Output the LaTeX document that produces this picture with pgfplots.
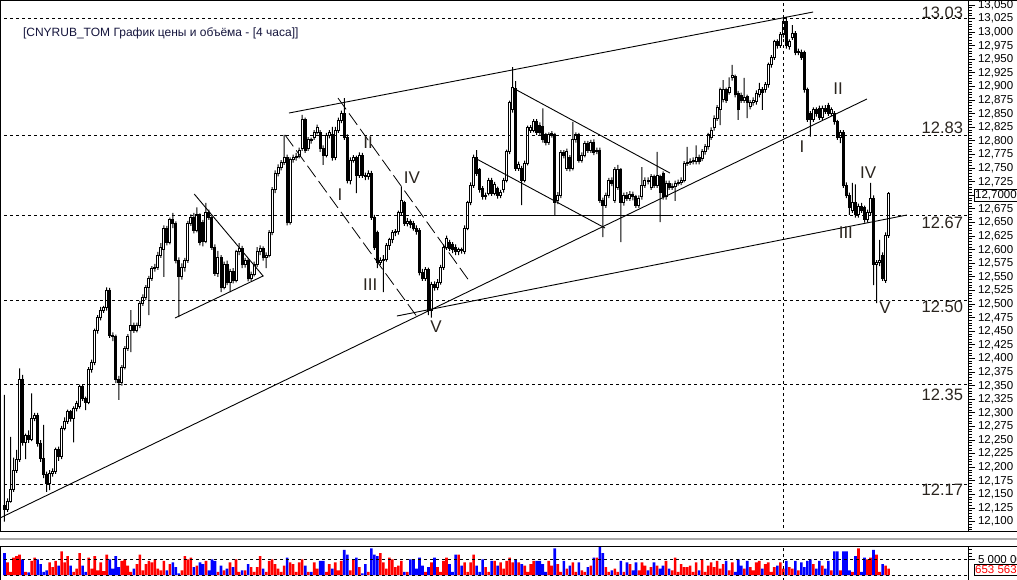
\documentclass[border=0pt]{standalone}
\usepackage{pgfplots}
\pgfplotsset{compat=1.18}
\usepackage{pgfplotstable}
\usepackage{fontspec}
\setmainfont{Liberation Sans}
\definecolor{volred}{RGB}{255,0,0}
\definecolor{volblue}{RGB}{0,0,255}
\definecolor{lvl}{RGB}{42,36,30}
\definecolor{ttl}{RGB}{20,20,60}
\definecolor{sepgray}{RGB}{170,170,170}

\pgfplotstableread{
i o h l c v
0 12.130 12.333 12.100 12.122 7.0
1 12.122 12.143 12.118 12.138 4.0
2 12.138 12.256 12.135 12.160 1.0
3 12.160 12.218 12.155 12.195 5.5
4 12.195 12.232 12.190 12.215 6.0
5 12.215 12.382 12.210 12.361 6.5
6 12.361 12.370 12.240 12.245 5.0
7 12.245 12.262 12.215 12.258 1.0
8 12.258 12.268 12.245 12.252 0.8
9 12.252 12.336 12.248 12.290 4.5
10 12.290 12.300 12.285 12.296 5.5
11 12.296 12.300 12.238 12.243 5.0
12 12.243 12.250 12.210 12.217 3.5
13 12.217 12.278 12.180 12.186 1.0
14 12.186 12.192 12.155 12.170 1.5
15 12.170 12.195 12.158 12.188 4.0
16 12.188 12.198 12.183 12.192 2.5
17 12.192 12.236 12.188 12.232 4.5
18 12.232 12.238 12.212 12.219 3.0
19 12.219 12.276 12.215 12.272 7.5
20 12.272 12.292 12.268 12.285 4.0
21 12.285 12.306 12.280 12.302 6.0
22 12.302 12.305 12.284 12.290 3.0
23 12.290 12.312 12.246 12.309 1.0
24 12.309 12.322 12.303 12.318 2.0
25 12.311 12.352 12.308 12.348 7.0
26 12.348 12.352 12.322 12.327 3.0
27 12.327 12.330 12.305 12.320 1.0
28 12.320 12.384 12.316 12.379 5.5
29 12.379 12.398 12.374 12.392 2.0
30 12.392 12.455 12.388 12.452 6.0
31 12.452 12.480 12.446 12.476 1.5
32 12.476 12.495 12.470 12.489 4.0
33 12.489 12.497 12.484 12.493 1.2
34 12.493 12.531 12.488 12.526 6.5
35 12.526 12.530 12.438 12.443 5.0
36 12.443 12.448 12.432 12.440 2.0
37 12.440 12.444 12.355 12.361 6.0
38 12.361 12.368 12.324 12.356 2.5
39 12.356 12.388 12.350 12.384 4.5
40 12.384 12.423 12.380 12.419 5.0
41 12.419 12.445 12.414 12.441 3.0
42 12.452 12.489 12.412 12.461 1.0
43 12.461 12.466 12.447 12.452 2.0
44 12.452 12.466 12.448 12.461 3.5
45 12.461 12.506 12.456 12.502 6.5
46 12.502 12.518 12.497 12.513 1.5
47 12.513 12.535 12.508 12.530 3.5
48 12.530 12.552 12.480 12.548 4.5
49 12.548 12.570 12.543 12.566 4.0
50 12.566 12.574 12.560 12.568 5.0
51 12.568 12.596 12.563 12.590 2.0
52 12.590 12.612 12.585 12.605 1.5
53 12.600 12.645 12.550 12.640 4.5
54 12.640 12.644 12.608 12.614 1.5
55 12.614 12.659 12.610 12.655 3.5
56 12.655 12.668 12.640 12.648 4.0
57 12.648 12.652 12.575 12.581 2.5
58 12.581 12.586 12.476 12.550 0.5
59 12.550 12.575 12.545 12.568 1.5
60 12.568 12.585 12.560 12.581 6.0
61 12.581 12.653 12.576 12.649 5.0
62 12.649 12.665 12.644 12.660 5.5
63 12.660 12.668 12.630 12.636 2.5
64 12.636 12.678 12.632 12.664 3.0
65 12.664 12.667 12.608 12.614 4.0
66 12.650 12.655 12.606 12.616 3.5
67 12.616 12.686 12.612 12.668 4.5
68 12.668 12.674 12.655 12.660 1.5
69 12.660 12.663 12.600 12.605 5.0
70 12.605 12.610 12.552 12.557 4.5
71 12.557 12.598 12.550 12.585 1.0
72 12.585 12.590 12.522 12.531 3.0
73 12.531 12.578 12.527 12.572 1.5
74 12.572 12.580 12.535 12.540 2.0
75 12.540 12.565 12.522 12.560 4.0
76 12.560 12.566 12.538 12.544 2.5
77 12.544 12.600 12.540 12.596 5.0
78 12.596 12.612 12.590 12.603 1.0
79 12.603 12.607 12.566 12.572 1.5
80 12.572 12.585 12.567 12.580 1.5
81 12.580 12.584 12.542 12.548 3.5
82 12.548 12.560 12.543 12.555 2.5
83 12.555 12.578 12.551 12.572 1.0
84 12.572 12.605 12.568 12.596 2.5
85 12.596 12.608 12.590 12.603 6.0
86 12.603 12.606 12.580 12.585 2.0
87 12.585 12.595 12.566 12.590 1.0
88 12.590 12.636 12.586 12.631 4.5
89 12.631 12.715 12.627 12.710 5.0
90 12.710 12.746 12.704 12.741 3.5
91 12.741 12.757 12.735 12.752 2.0
92 12.752 12.765 12.746 12.760 1.0
93 12.760 12.811 12.756 12.770 3.0
94 12.770 12.775 12.645 12.651 5.5
95 12.651 12.770 12.646 12.766 4.0
96 12.766 12.775 12.760 12.770 3.5
97 12.770 12.778 12.764 12.772 1.0
98 12.772 12.788 12.768 12.783 4.0
99 12.787 12.848 12.782 12.839 5.0
100 12.839 12.843 12.778 12.783 3.0
101 12.787 12.807 12.782 12.802 1.0
102 12.802 12.806 12.795 12.800 1.0
103 12.807 12.820 12.802 12.816 4.0
104 12.816 12.830 12.812 12.824 2.0
105 12.815 12.820 12.780 12.787 4.5
106 12.787 12.792 12.756 12.774 4.5
107 12.774 12.815 12.770 12.810 1.0
108 12.810 12.820 12.805 12.815 3.5
109 12.811 12.826 12.764 12.770 2.0
110 12.770 12.826 12.765 12.820 4.0
111 12.820 12.843 12.815 12.838 1.5
112 12.838 12.856 12.833 12.851 4.5
113 12.851 12.879 12.802 12.807 8.0
114 12.807 12.812 12.722 12.728 6.5
115 12.728 12.770 12.720 12.765 1.5
116 12.765 12.774 12.760 12.770 5.0
117 12.770 12.773 12.704 12.737 5.5
118 12.737 12.779 12.732 12.774 2.5
119 12.774 12.778 12.732 12.737 0.5
120 12.737 12.742 12.728 12.734 3.5
121 12.734 12.746 12.729 12.741 1.0
122 12.741 12.745 12.655 12.660 8.5
123 12.660 12.664 12.600 12.605 6.5
124 12.631 12.635 12.566 12.577 6.0
125 12.577 12.586 12.572 12.581 7.0
126 12.581 12.590 12.522 12.583 4.0
127 12.583 12.612 12.578 12.607 2.0
128 12.607 12.622 12.600 12.618 5.5
129 12.618 12.636 12.612 12.631 5.0
130 12.631 12.638 12.625 12.633 2.5
131 12.633 12.672 12.628 12.668 3.0
132 12.668 12.715 12.664 12.691 4.5
133 12.686 12.690 12.644 12.649 1.0
134 12.649 12.658 12.643 12.652 1.0
135 12.652 12.656 12.640 12.646 5.0
136 12.649 12.653 12.635 12.640 5.0
137 12.640 12.645 12.628 12.633 2.0
138 12.636 12.640 12.553 12.559 5.5
139 12.559 12.565 12.543 12.548 3.0
140 12.548 12.568 12.543 12.563 1.0
141 12.563 12.567 12.480 12.489 2.5
142 12.489 12.541 12.475 12.537 4.0
143 12.537 12.542 12.525 12.530 5.5
144 12.530 12.546 12.526 12.540 2.5
145 12.540 12.572 12.536 12.568 1.0
146 12.568 12.610 12.563 12.605 4.5
147 12.605 12.626 12.600 12.621 5.5
148 12.614 12.618 12.598 12.603 3.5
149 12.610 12.614 12.594 12.600 1.0
150 12.605 12.610 12.590 12.596 6.5
151 12.596 12.604 12.590 12.600 6.5
152 12.600 12.604 12.593 12.598 3.0
153 12.596 12.645 12.592 12.640 4.0
154 12.640 12.690 12.636 12.686 1.0
155 12.686 12.724 12.682 12.719 4.0
156 12.719 12.775 12.714 12.770 6.5
157 12.770 12.783 12.736 12.741 3.0
158 12.747 12.750 12.705 12.710 1.0
159 12.713 12.717 12.692 12.697 5.0
160 12.697 12.705 12.692 12.700 2.5
161 12.704 12.732 12.700 12.728 1.0
162 12.728 12.732 12.699 12.704 4.5
163 12.704 12.725 12.700 12.720 4.5
164 12.712 12.716 12.694 12.700 3.0
165 12.700 12.710 12.695 12.705 4.0
166 12.710 12.732 12.705 12.728 2.0
167 12.728 12.784 12.724 12.780 4.5
168 12.780 12.874 12.776 12.870 5.5
169 12.857 12.936 12.852 12.899 4.0
170 12.897 12.910 12.745 12.750 5.0
171 12.750 12.762 12.745 12.756 4.0
172 12.750 12.754 12.682 12.728 3.5
173 12.728 12.764 12.724 12.759 3.0
174 12.759 12.828 12.755 12.824 1.0
175 12.820 12.829 12.815 12.824 3.5
176 12.820 12.840 12.816 12.835 4.5
177 12.835 12.840 12.811 12.816 4.5
178 12.829 12.834 12.810 12.816 4.5
179 12.826 12.860 12.797 12.802 3.5
180 12.811 12.815 12.792 12.798 1.0
181 12.798 12.816 12.793 12.811 4.5
182 12.811 12.818 12.806 12.813 3.0
183 12.811 12.815 12.664 12.686 8.5
184 12.690 12.706 12.684 12.700 3.5
185 12.700 12.783 12.695 12.778 1.0
186 12.778 12.783 12.768 12.773 4.5
187 12.750 12.786 12.745 12.780 2.0
188 12.769 12.774 12.744 12.750 3.0
189 12.750 12.835 12.746 12.802 4.0
190 12.802 12.816 12.797 12.811 1.0
191 12.811 12.815 12.760 12.765 4.0
192 12.765 12.779 12.760 12.774 1.5
193 12.774 12.800 12.770 12.796 1.0
194 12.796 12.800 12.778 12.783 2.5
195 12.783 12.802 12.778 12.798 3.0
196 12.798 12.803 12.774 12.779 5.5
197 12.781 12.788 12.776 12.783 5.5
198 12.783 12.788 12.686 12.691 9.0
199 12.691 12.696 12.623 12.682 7.0
200 12.682 12.705 12.677 12.700 2.5
201 12.700 12.732 12.695 12.728 1.0
202 12.728 12.733 12.717 12.722 1.5
203 12.691 12.752 12.686 12.747 2.0
204 12.715 12.756 12.710 12.747 1.0
205 12.747 12.750 12.614 12.686 4.5
206 12.686 12.705 12.681 12.700 1.0
207 12.700 12.706 12.690 12.695 4.0
208 12.695 12.708 12.690 12.702 3.5
209 12.702 12.707 12.691 12.697 1.5
210 12.697 12.701 12.677 12.682 4.0
211 12.682 12.700 12.677 12.695 1.5
212 12.697 12.752 12.692 12.719 4.0
213 12.719 12.733 12.714 12.728 3.0
214 12.728 12.733 12.720 12.725 1.5
215 12.715 12.739 12.710 12.734 2.5
216 12.734 12.738 12.714 12.719 4.0
217 12.719 12.780 12.714 12.737 3.0
218 12.734 12.738 12.651 12.705 2.0
219 12.740 12.744 12.692 12.697 3.0
220 12.697 12.727 12.692 12.722 4.5
221 12.722 12.727 12.710 12.715 2.0
222 12.715 12.722 12.710 12.717 1.5
223 12.717 12.727 12.690 12.722 5.5
224 12.722 12.729 12.718 12.724 1.0
225 12.724 12.733 12.719 12.728 3.5
226 12.728 12.763 12.724 12.759 2.5
227 12.759 12.789 12.754 12.761 2.5
228 12.761 12.768 12.756 12.762 3.0
229 12.762 12.770 12.757 12.765 1.0
230 12.762 12.792 12.757 12.770 4.0
231 12.770 12.775 12.757 12.762 1.5
232 12.768 12.785 12.763 12.780 5.0
233 12.780 12.794 12.775 12.789 1.0
234 12.789 12.815 12.784 12.811 3.0
235 12.807 12.825 12.802 12.820 4.0
236 12.824 12.847 12.819 12.842 2.5
237 12.842 12.866 12.837 12.861 4.5
238 12.857 12.898 12.829 12.894 2.0
239 12.876 12.912 12.871 12.894 3.5
240 12.894 12.898 12.870 12.875 4.5
241 12.890 12.917 12.885 12.899 1.5
242 12.916 12.940 12.911 12.921 4.0
243 12.918 12.922 12.880 12.885 1.0
244 12.888 12.892 12.839 12.857 5.0
245 12.884 12.889 12.870 12.875 3.0
246 12.875 12.916 12.870 12.880 2.0
247 12.881 12.885 12.842 12.870 4.5
248 12.863 12.875 12.858 12.870 2.5
249 12.870 12.880 12.865 12.875 1.5
250 12.872 12.893 12.867 12.888 4.0
251 12.885 12.907 12.880 12.894 4.5
252 12.894 12.899 12.857 12.890 2.0
253 12.894 12.908 12.889 12.903 3.5
254 12.903 12.944 12.898 12.940 4.0
255 12.940 12.958 12.935 12.954 1.0
256 12.954 12.986 12.949 12.982 2.5
257 12.982 12.987 12.970 12.976 3.0
258 12.976 13.000 12.971 12.995 4.0
259 12.995 13.026 12.990 13.020 2.0
260 13.020 13.028 12.970 12.975 4.5
261 12.973 12.987 12.968 12.982 2.5
262 12.991 13.013 12.986 12.998 2.0
263 12.998 13.002 12.958 12.963 4.5
264 12.963 12.970 12.958 12.965 1.5
265 12.963 12.968 12.949 12.954 4.0
266 12.962 12.966 12.889 12.894 2.5
267 12.894 12.898 12.835 12.840 4.5
268 12.850 12.855 12.808 12.840 5.0
269 12.840 12.862 12.835 12.857 3.5
270 12.857 12.862 12.845 12.850 2.0
271 12.860 12.865 12.839 12.844 4.5
272 12.844 12.865 12.839 12.860 3.0
273 12.860 12.866 12.850 12.855 2.0
274 12.866 12.870 12.846 12.851 4.5
275 12.851 12.862 12.846 12.857 1.5
276 12.851 12.855 12.830 12.835 7.5
277 12.835 12.839 12.802 12.807 7.5
278 12.807 12.820 12.796 12.815 1.5
279 12.816 12.820 12.714 12.719 7.5
280 12.719 12.724 12.695 12.700 7.5
281 12.700 12.705 12.664 12.677 1.5
282 12.673 12.723 12.668 12.686 1.0
283 12.686 12.720 12.659 12.664 6.0
284 12.664 12.685 12.659 12.680 8.5
285 12.680 12.686 12.668 12.673 1.0
286 12.677 12.681 12.650 12.655 5.5
287 12.655 12.674 12.650 12.669 5.0
288 12.669 12.723 12.664 12.695 5.5
289 12.695 12.700 12.535 12.572 8.0
290 12.572 12.581 12.502 12.576 6.5
291 12.576 12.618 12.570 12.580 1.0
292 12.590 12.595 12.543 12.548 3.5
293 12.544 12.632 12.539 12.627 3.0
294 12.627 12.706 12.622 12.704 2.0
}\candles

\pgfplotsset{
  pane/.style={scale only axis, width=967.5pt, height=530.5pt,
    at={(0.5pt,48pt)}, anchor=south west,
    xmin=-1.33, xmax=320.42, ymin=12.0829, ymax=13.0583},
  hiddenpane/.style={pane, hide axis},
  gridl/.style={black, line width=1pt, dash pattern=on 3pt off 3pt},
  trend/.style={black, line width=0.9pt},
  chan/.style={black, line width=0.8pt, dash pattern=on 14pt off 5pt},
}
\tikzset{
  wave/.style={text=lvl, font=\fontsize{17}{19}\selectfont},
  level/.style={text=lvl, font=\fontsize{16.5}{18}\selectfont, anchor=east, xshift=-1.5pt},
  tfont/.style={font=\fontsize{11.5}{13}\selectfont},
}
\begin{document}
\begin{tikzpicture}[x=1pt,y=1pt]
% wicks
\begin{axis}[hiddenpane, ybar stacked, bar width=1pt]
\addplot[draw=none, fill=none] table[x=i, y=l]{\candles};
\addplot[draw=none, fill=black] table[x=i, y expr=\thisrow{h}-\thisrow{l}]{\candles};
\end{axis}
% bodies
\begin{axis}[hiddenpane, ybar stacked, bar width=2.0pt]
\addplot[draw=none, fill=none] table[x=i, y expr={min(\thisrow{o},\thisrow{c})}]{\candles};
\addplot[draw=black, line width=1pt, fill=white] table[x=i, y expr={max(\thisrow{c}-\thisrow{o},0)}]{\candles};
\addplot[draw=black, line width=1pt, fill=black] table[x=i, y expr={max(\thisrow{o}-\thisrow{c},0)}]{\candles};
\end{axis}
% main frame, grid, trend lines, labels
\begin{axis}[pane, clip mode=individual,
  axis line style={line width=1pt},
  xtick=\empty,
  ytick distance=0.025,
  minor y tick num=4,
  ytick pos=right, yticklabel pos=right,
  tick align=outside,
  major tick length=7pt, minor tick length=3.5pt,
  every tick/.style={black, line width=1pt},
  yticklabel style={tfont, xshift=-0.5pt,
    /pgf/number format/fixed, /pgf/number format/fixed zerofill,
    /pgf/number format/precision=3, /pgf/number format/use comma,
    /pgf/number format/1000 sep={}, /pgf/number format/assume math mode=true},
]
\addplot[gridl] coordinates {(-2,13.0261) (330,13.0261)};
\addplot[gridl] coordinates {(-2,12.8092) (330,12.8092)};
\addplot[gridl] coordinates {(-2,12.6639) (330,12.6639)};
\addplot[gridl] coordinates {(-2,12.5076) (330,12.5076)};
\addplot[gridl] coordinates {(-2,12.3514) (330,12.3514)};
\addplot[gridl] coordinates {(-2,12.1693) (330,12.1693)};
\addplot[gridl] coordinates {(259.2,12.0) (259.2,13.2)};
% trend lines
\addplot[trend] coordinates {(-1.5,12.1068) (286.8,12.8772)};
\addplot[trend] coordinates {(130.5,12.4782) (300.1,12.6639)};
\addplot[trend] coordinates {(94.6,12.8514) (268.9,13.0371)};
\addplot[trend] coordinates {(63.1,12.7025) (86.0,12.5518) (56.7,12.4745)};
\addplot[chan] coordinates {(110.9,12.8790) (154.8,12.5407)};
\addplot[chan] coordinates {(93.3,12.8110) (137.5,12.4745)};
\addplot[trend] coordinates {(159.1,12.6639) (221.3,12.6639)};
\addplot[trend] coordinates {(169.1,12.8974) (221.3,12.7411)};
\addplot[trend] coordinates {(155.8,12.7705) (199.7,12.6400)};
% wave labels
\node[wave] at (axis cs:120.9,12.7963) {II};
\node[wave] at (axis cs:111.6,12.7007) {I};
\node[wave] at (axis cs:135.5,12.7319) {IV};
\node[wave] at (axis cs:121.6,12.5352) {III};
\node[wave] at (axis cs:143.5,12.4580) {V};
\node[wave] at (axis cs:277.2,12.8956) {II};
\node[wave] at (axis cs:265.2,12.7889) {I};
\node[wave] at (axis cs:287.2,12.7411) {IV};
\node[wave] at (axis cs:279.8,12.6308) {III};
\node[wave] at (axis cs:292.8,12.4929) {V};
% level labels
\node[level] at (axis cs:320.42,13.0353) {13.03};
\node[level] at (axis cs:320.42,12.8239) {12.83};
\node[level] at (axis cs:320.42,12.6492) {12.67};
\node[level] at (axis cs:320.42,12.4948) {12.50};
\node[level] at (axis cs:320.42,12.3330) {12.35};
\node[level] at (axis cs:320.42,12.1583) {12.17};
% title
\node[anchor=west, text=ttl, font=\fontsize{12}{14}\selectfont] at (axis cs:5.0,12.9985) {[CNYRUB\_TOM График цены и объёма - [4 часа]]};
\coordinate (pricebox) at (axis cs:320.42,12.700);
\end{axis}
% current price box, drawn above the tick labels
\node[draw=black, line width=1pt, fill=white, anchor=west, inner sep=1.2pt, xshift=5.5pt, tfont] at (pricebox) {12,70000};
% volume pane
\begin{axis}[scale only axis, width=967.5pt, height=34pt, at={(0.5pt,-1pt)}, anchor=south west,
  xmin=-1.33, xmax=320.42, ymin=-1.592, ymax=9.236, clip mode=individual,
  axis line style={line width=1pt},
  xtick=\empty, ytick={5}, yticklabels={5 000 000}, minor ytick={6,7,8,9},
  ytick pos=right, yticklabel pos=right, tick align=outside,
  major tick length=7pt, minor tick length=3.5pt,
  every tick/.style={black, line width=1pt},
  yticklabel style={tfont, xshift=-0.5pt}]
\addplot[ybar, bar width=2.6pt, bar shift=0pt, draw=none, fill=volred] table[x=i, y expr={\thisrow{c}<\thisrow{o} ? 0 : \thisrow{v}}]{\candles};
\addplot[ybar, bar width=2.6pt, bar shift=0pt, draw=none, fill=volblue] table[x=i, y expr={\thisrow{c}<\thisrow{o} ? \thisrow{v} : 0}]{\candles};
\addplot[gridl] coordinates {(-2,0) (330,0)};
\addplot[gridl] coordinates {(-2,5) (330,5)};
\addplot[gridl] coordinates {(259.2,-2) (259.2,10)};
\coordinate (volbox) at (axis cs:320.42,3.5);
\end{axis}
\node[draw=black, line width=1pt, fill=white, text=volred, anchor=north west, inner sep=1.2pt, xshift=5.5pt, tfont] at (volbox) {653 563};
% outer frame lines
\draw[line width=1pt] (0,578.5) -- (1017,578.5);
\draw[line width=1pt] (0,48) -- (1017,48);
\draw[sepgray, line width=2pt] (0,40) -- (1017,40);
\draw[line width=1pt] (0,33) -- (1017,33);
\pgfresetboundingbox
\useasboundingbox (0,0) rectangle (1017,579);
\end{tikzpicture}
\end{document}
